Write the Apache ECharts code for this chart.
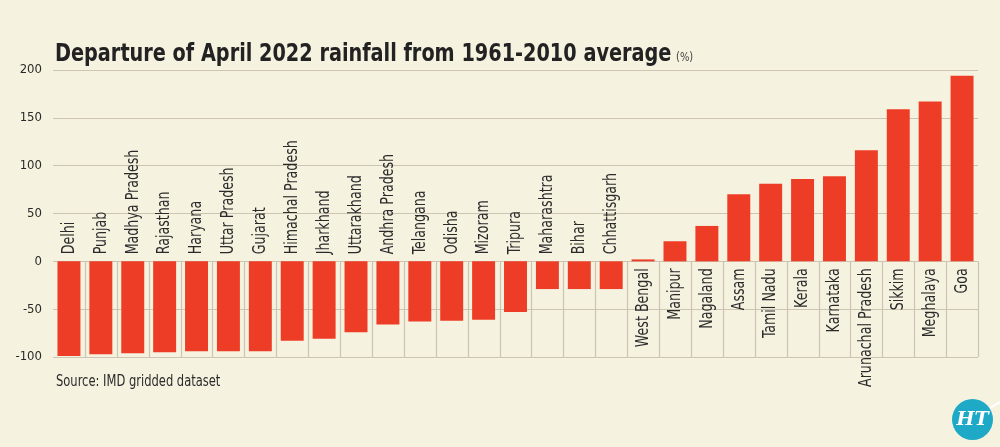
<!DOCTYPE html>
<html>
<head>
<meta charset="utf-8">
<style>
  html, body { margin: 0; padding: 0; background: #f6f2e0; }
  #chart { width: 1000px; height: 447px; }
</style>
<script src="https://cdn.jsdelivr.net/npm/echarts@6/dist/echarts.min.js"></script>
</head>
<body>
<div id="chart"></div>
<script>
const categories = ['Delhi','Punjab','Madhya Pradesh','Rajasthan','Haryana','Uttar Pradesh','Gujarat','Himachal Pradesh','Jharkhand','Uttarakhand','Andhra Pradesh','Telangana','Odisha','Mizoram','Tripura','Maharashtra','Bihar','Chhattisgarh','West Bengal','Manipur','Nagaland','Assam','Tamil Nadu','Kerala','Karnataka','Arunachal Pradesh','Sikkim','Meghalaya','Goa'];
const departure = [-99,-97,-96,-95,-94,-94,-94,-83,-81,-74,-66,-63,-62,-61,-53,-29,-29,-29,2,21,37,70,81,86,89,116,159,167,194];
const yTicks = [-100, -50, 0, 50, 100, 150, 200];

const FONT = '"DejaVu Sans Condensed", "DejaVu Sans", sans-serif';
const TEXT = '#2a2a2a';
const GRID = '#cdc4b1';
const BAR = '#ee3d26';
const BG = '#f6f2e0';

const yMin = yTicks[0], yMax = yTicks[yTicks.length - 1];

const chart = echarts.init(document.getElementById('chart'));
chart.setOption({
  backgroundColor: BG,
  animation: false,
  grid: { left: 53, right: 22, top: 70, bottom: 90, containLabel: false },
  xAxis: {
    type: 'category',
    data: categories,
    axisLine: { show: false },
    axisTick: { show: false },
    axisLabel: { show: false },
    splitLine: { show: false }
  },
  yAxis: {
    type: 'value',
    min: yMin, max: yMax, interval: 50,
    axisLine: { show: false },
    axisTick: { show: false },
    axisLabel: { fontFamily: FONT, fontSize: 13, color: TEXT, margin: 11 },
    splitLine: { lineStyle: { color: GRID, width: 1.2 } }
  },
  series: [
    {
      // category separators below the zero line
      type: 'custom',
      z: 1,
      silent: true,
      data: categories.map(c => [c]),
      renderItem: function (params, api) {
        const idx = params.dataIndex;
        const w = api.size([1, 0])[0];
        const top = api.coord([idx, 0]);
        const bot = api.coord([idx, yMin]);
        const x = Math.round(top[0] + w / 2) + 0.5;
        return {
          type: 'line',
          shape: { x1: x, y1: top[1], x2: x, y2: bot[1] },
          style: { stroke: GRID, lineWidth: 1.2 }
        };
      }
    },
    {
      type: 'bar',
      z: 3,
      barCategoryGap: '28%',
      itemStyle: { color: BAR },
      data: departure
    },
    {
      // vertical category labels next to the zero line
      type: 'custom',
      z: 4,
      silent: true,
      data: categories.map((c, i) => [c, departure[i]]),
      renderItem: function (params, api) {
        const idx = params.dataIndex;
        const v = api.value(1);
        const p = api.coord([idx, 0]);
        const neg = v < 0;
        return {
          type: 'text',
          x: p[0],
          y: p[1] + (neg ? -7 : 7),
          rotation: Math.PI / 2,
          scaleX: 0.76,
          style: {
            text: categories[idx],
            fontFamily: FONT,
            fontSize: 18.5,
            fill: TEXT,
            align: neg ? 'left' : 'right',
            verticalAlign: 'middle'
          }
        };
      }
    }
  ],
  graphic: [
    {
      type: 'text', x: 55, y: 54.5, scaleX: 0.84,
      style: { text: 'Departure of April 2022 rainfall from 1961-2010 average', fontFamily: FONT, fontWeight: 'bold', fontSize: 25.5, fill: '#222', verticalAlign: 'middle' }
    },
    {
      type: 'text', x: 676, y: 58, scaleX: 0.85,
      style: { text: '(%)', fontFamily: FONT, fontSize: 13, fill: '#444', verticalAlign: 'middle' }
    },
    {
      type: 'text', x: 56, y: 382, scaleX: 0.8,
      style: { text: 'Source: IMD gridded dataset', fontFamily: FONT, fontSize: 16, fill: TEXT, verticalAlign: 'middle' }
    },
    {
      type: 'line', shape: { x1: 988, y1: 409, x2: 1000, y2: 402 },
      style: { stroke: '#ffffff', lineWidth: 2 }
    },
    {
      type: 'circle', shape: { cx: 972.5, cy: 419.5, r: 20.5 },
      style: { fill: '#1ea9c6' }
    },
    {
      type: 'text', x: 972.5, y: 420,
      style: { text: 'HT', fontFamily: '"DejaVu Serif", serif', fontWeight: 'bold', fontStyle: 'italic', fontSize: 19, fill: '#ffffff', align: 'center', verticalAlign: 'middle' }
    }
  ]
});
</script>
</body>
</html>
